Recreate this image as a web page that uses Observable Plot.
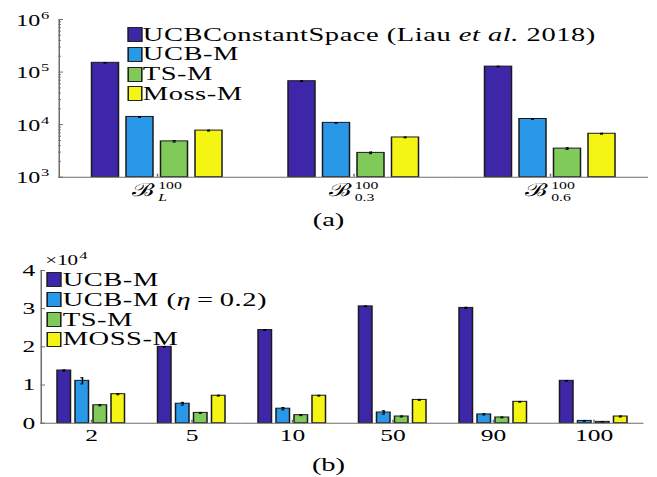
<!DOCTYPE html>
<html><head><meta charset="utf-8">
<script src="https://cdn.jsdelivr.net/npm/d3@7"></script>
<script src="https://cdn.jsdelivr.net/npm/@observablehq/plot@0.6"></script>
<style>
html,body{margin:0;padding:0;background:#fff;}
#wrap{position:relative;width:438px;height:477px;transform:scaleX(1.5);transform-origin:0 0;font-family:"Liberation Serif",serif;color:#000;overflow:visible;}
.panel{position:absolute;left:0;}
.panel text{font-family:"Liberation Serif",serif;}
.legend{position:absolute;font-size:19px;letter-spacing:0.35px;}
.legend .row{display:flex;align-items:center;height:19.8px;white-space:nowrap;}
.legend .sw{display:inline-block;width:8px;height:13px;border:1px solid #222;margin-right:0.5px;flex:none;}
.legend .eq{padding:0 4px;}
.caption{position:absolute;left:0;width:438px;text-align:center;font-size:19px;line-height:1;}
</style></head><body><div id="wrap"></div>
<script>
// ---------- Panel (a) data ----------
const seriesA = ["UCBConstantSpace", "UCB-M", "TS-M", "Moss-M"];
const legendA = ["UCBConstantSpace (Liau <i>et al.</i> 2018)", "UCB-M", "TS-M", "Moss-M"];
const groupsA = ["L", "0.3", "0.6"];
const ucbConstantA = [150000, 67000, 127000];
const ucbMA = [14000, 10800, 12800];
const tsMA = [4800, 2900, 3500];
const mossMA = [7700, 5700, 6700];
const ucbConstantErrA = [2000, 1000, 1500];
const ucbMErrA = [250, 150, 200];
const tsMErrA = [150, 100, 120];
const mossMErrA = [150, 100, 120];
const majorTicksA = [1e3, 1e4, 1e5, 1e6];
const minorTicksA = [2e3,3e3,4e3,5e3,6e3,7e3,8e3,9e3,2e4,3e4,4e4,5e4,6e4,7e4,8e4,9e4,2e5,3e5,4e5,5e5,6e5,7e5,8e5,9e5];

// ---------- Panel (b) data ----------
const seriesB = ["UCB-M", "UCB-M (eta=0.2)", "TS-M", "MOSS-M"];
const legendB = ["UCB-M", "UCB-M (<i>η</i><span class=\"eq\">=</span>0.2)", "TS-M", "MOSS-M"];
const groupsB = ["2", "5", "10", "50", "90", "100"];
const ucbB = [13800, 20000, 24400, 30600, 30200, 11100];
const ucbEtaB = [11100, 5100, 3800, 2800, 2300, 600];
const tsB = [4700, 2700, 2100, 1750, 1500, 350];
const mossB = [7600, 7200, 7200, 6100, 5600, 1750];
const ucbErrB = [150, 100, 100, 100, 150, 80];
const ucbEtaErrB = [800, 350, 300, 450, 150, 80];
const tsErrB = [150, 120, 120, 120, 100, 50];
const mossErrB = [150, 100, 100, 120, 100, 120];
const yTicksB = [0, 10000, 20000, 30000, 40000];

const colors = ["#3E26A8", "#2A98E8", "#80CA5A", "#F5F514"];
const axisGrey = "#6e6e6e";
const serif = "\"Liberation Serif\", serif";

function rows(groups, series, vals, errs) {
  const out = [];
  groups.forEach((g, i) => series.forEach((s, j) => out.push({g, s, v: vals[j][i], e: errs[j][i]})));
  return out;
}
const rowsA = rows(groupsA, seriesA, [ucbConstantA, ucbMA, tsMA, mossMA], [ucbConstantErrA, ucbMErrA, tsMErrA, mossMErrA]);
const rowsB = rows(groupsB, seriesB, [ucbB, ucbEtaB, tsB, mossB], [ucbErrB, ucbEtaErrB, tsErrB, mossErrB]);

const wrap = document.getElementById("wrap");
const W = 438;
const baseStyle = {fontFamily: serif, fontSize: "15px", color: "#000", background: "none", overflow: "visible"};

// ---------- Panel (a) ----------
const plotA = Plot.plot({
  width: W, height: 205,
  marginLeft: 38, marginRight: 6, marginTop: 19, marginBottom: 28.3,
  fx: {domain: groupsA, padding: 0, label: null},
  x: {domain: seriesA, paddingInner: 0.2, paddingOuter: 0.835, axis: null},
  y: {type: "log", domain: [majorTicksA[0], majorTicksA[majorTicksA.length - 1]]},
  color: {domain: seriesA, range: colors},
  style: baseStyle,
  marks: [
    Plot.barY(rowsA, {fx: "g", x: "s", y1: () => majorTicksA[0], y2: "v", fill: "s", stroke: "#1a1a1a", strokeWidth: 1}),
    Plot.ruleX(rowsA, {fx: "g", x: "s", y1: d => d.v - d.e, y2: d => d.v + d.e, stroke: "#000", strokeWidth: 1}),
    Plot.tickY(rowsA, {fx: "g", x: "s", y: d => d.v + d.e, stroke: "#000", insetLeft: 8, insetRight: 8}),
    Plot.tickY(rowsA, {fx: "g", x: "s", y: d => d.v - d.e, stroke: "#000", insetLeft: 8, insetRight: 8}),
    Plot.ruleY([majorTicksA[0]], {stroke: axisGrey}),
    Plot.frame({anchor: "left", facetAnchor: "left", stroke: axisGrey}),
    Plot.axisY(majorTicksA, {tickSize: -3, fill: "none", stroke: axisGrey, label: null}),
    Plot.axisY(minorTicksA, {tickSize: -1.6, fill: "none", stroke: axisGrey, label: null}),
    Plot.axisFx({anchor: "bottom", tickSize: -3, fill: "none", stroke: axisGrey, label: null}),
    Plot.text(majorTicksA, {fx: () => groupsA[0], y: d => d, text: () => "10", frameAnchor: "left", textAnchor: "end", lineAnchor: "bottom", dx: -12.7, dy: 6, fontSize: 16, fontFamily: serif}),
    Plot.text(majorTicksA, {fx: () => groupsA[0], y: d => d, text: d => String(Math.round(Math.log10(d))), frameAnchor: "left", textAnchor: "start", lineAnchor: "bottom", dx: -12.2, dy: -1, fontSize: 11, fontFamily: serif}),
    Plot.text(groupsA, {fx: d => d, text: () => "ℬ", frameAnchor: "bottom", textAnchor: "end", lineAnchor: "bottom", dx: -2, dy: 18.5, fontSize: 18}),
    Plot.text(groupsA, {fx: d => d, text: () => "100", frameAnchor: "bottom", textAnchor: "start", lineAnchor: "bottom", dx: 0.5, dy: 11.5, fontSize: 10.5, fontFamily: serif}),
    Plot.text(groupsA.slice(0, 1), {fx: d => d, text: d => d, frameAnchor: "bottom", textAnchor: "start", lineAnchor: "bottom", dx: 0.5, dy: 23.8, fontSize: 10.5, fontStyle: "italic", fontFamily: serif}),
    Plot.text(groupsA.slice(1), {fx: d => d, text: d => d, frameAnchor: "bottom", textAnchor: "start", lineAnchor: "bottom", dx: 0.5, dy: 23.8, fontSize: 10.5, fontFamily: serif})
  ]
});
plotA.classList.add("panel");
plotA.style.top = "0px";
wrap.append(plotA);

// ---------- Panel (b) ----------
const plotB = Plot.plot({
  width: W, height: 215,
  marginLeft: 24, marginRight: 6.7, marginTop: 30, marginBottom: 32.3,
  fx: {domain: groupsB, padding: 0, label: null},
  x: {domain: seriesB, paddingInner: 0.22, paddingOuter: 0.85, axis: null},
  y: {domain: [yTicksB[0], yTicksB[yTicksB.length - 1]]},
  color: {domain: seriesB, range: colors},
  style: baseStyle,
  marks: [
    Plot.barY(rowsB, {fx: "g", x: "s", y1: () => 0, y2: "v", fill: "s", stroke: "#1a1a1a", strokeWidth: 1}),
    Plot.ruleX(rowsB, {fx: "g", x: "s", y1: d => d.v - d.e, y2: d => d.v + d.e, stroke: "#000", strokeWidth: 1}),
    Plot.tickY(rowsB, {fx: "g", x: "s", y: d => d.v + d.e, stroke: "#000", insetLeft: 3.5, insetRight: 3.5}),
    Plot.tickY(rowsB, {fx: "g", x: "s", y: d => d.v - d.e, stroke: "#000", insetLeft: 3.5, insetRight: 3.5}),
    Plot.ruleY([0], {stroke: axisGrey}),
    Plot.frame({anchor: "left", facetAnchor: "left", stroke: axisGrey}),
    Plot.axisY(yTicksB, {tickSize: -3, fill: "none", stroke: axisGrey, label: null}),
    Plot.axisY(yTicksB, {tickSize: 0, tickPadding: 4, tickFormat: d => String(d / 1e4), fontSize: 17, fontFamily: serif, label: null}),
    Plot.axisFx({anchor: "bottom", tickSize: -3, fill: "none", stroke: axisGrey, label: null}),
    Plot.axisFx({anchor: "bottom", tickSize: 0, tickPadding: 6, fontSize: 17, fontFamily: serif, label: null}),
    Plot.text([groupsB[0]], {fx: d => d, text: () => "×10", frameAnchor: "top-left", textAnchor: "start", lineAnchor: "bottom", dx: 2.7, dy: -6, fontSize: 14, fontFamily: serif}),
    Plot.text([groupsB[0]], {fx: d => d, text: () => "4", frameAnchor: "top-left", textAnchor: "start", lineAnchor: "bottom", dx: 25.3, dy: -12, fontSize: 11, fontFamily: serif})
  ]
});
plotB.classList.add("panel");
plotB.style.top = "240px";
wrap.append(plotB);

// ---------- Legends ----------
function legend(labels, left, top) {
  const div = document.createElement("div");
  div.className = "legend";
  div.style.left = left + "px";
  div.style.top = top + "px";
  labels.forEach((lab, i) => {
    const row = document.createElement("div");
    row.className = "row";
    const sw = document.createElement("span");
    sw.className = "sw";
    sw.style.background = colors[i];
    const t = document.createElement("span");
    t.innerHTML = lab;
    row.append(sw, t);
    div.append(row);
  });
  wrap.append(div);
}
legend(legendA, 84.7, 24.6);
legend(legendB, 31.3, 270);

// ---------- Captions ----------
function caption(txt, top) {
  const c = document.createElement("div");
  c.className = "caption";
  c.style.top = top + "px";
  c.textContent = txt;
  wrap.append(c);
}
caption("(a)", 209.5);
caption("(b)", 454.5);
</script></body></html>
